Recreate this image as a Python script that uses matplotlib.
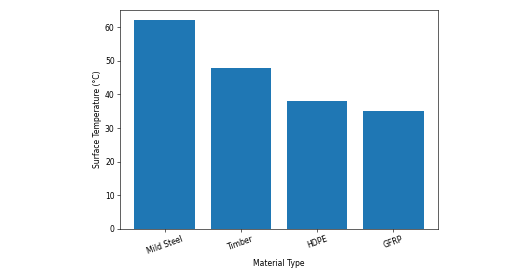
import matplotlib
matplotlib.use("Agg")
import matplotlib.pyplot as plt

materials = ["Mild Steel", "Timber", "HDPE", "GFRP"]
temperatures = [62, 48, 38, 35]

DPI = 55
fig = plt.figure(figsize=(526/DPI, 276/DPI), dpi=DPI)
ax = fig.add_axes([120/526, 1-229/276, (438-120)/526, (229-10)/276])
ax.bar(materials, temperatures, color="#1f77b4")
ax.set_xlabel("Material Type")
ax.set_ylabel("Surface Temperature (°C)")
plt.setp(ax.get_xticklabels(), rotation=20)
fig.savefig("out.png", dpi=DPI)
